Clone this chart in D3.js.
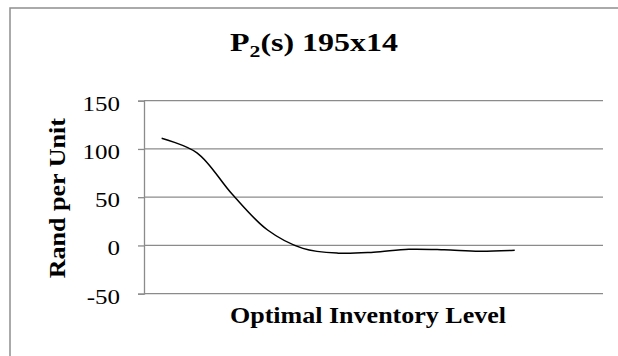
<!DOCTYPE html>
<html>
<head>
<meta charset="utf-8">
<script src="https://cdn.jsdelivr.net/npm/d3@7"></script>
<style>
  html, body { margin: 0; padding: 0; background: #fff; }
  svg { display: block; }
  text { font-family: "Liberation Serif", "Times New Roman", serif; fill: #000; }
</style>
</head>
<body>
<svg id="chart" width="618" height="356"></svg>
<script>
// Category slots along the horizontal axis (labels are not shown)
const categories = ["1","2","3","4","5","6","7","8","9","10","11","12","13"];
// Rand per unit at each inventory level (last two slots empty)
const values = [111, 96, 53, 16, -3, -8, -7, -4, -4.5, -6, -5, null, null];
// Value axis ticks
const yTicks = [-50, 0, 50, 100, 150];

const svg = d3.select("#chart");
const W = 618, H = 356;
const plot = { left: 144, right: 603, top: 100.7, bottom: 293.7 };
const gridColor = "#8b8b8b";

// chart frame (runs past the right and bottom edges)
svg.append("rect")
  .attr("x", 10).attr("y", 8)
  .attr("width", W + 20).attr("height", H + 20)
  .attr("fill", "#fff")
  .attr("stroke", "#8e8e8e").attr("stroke-width", 1.5);

const x = d3.scalePoint().domain(categories).range([plot.left, plot.right]).padding(0.5);
const y = d3.scaleLinear().domain([-50, 150]).range([plot.bottom, plot.top]);

// horizontal gridlines
svg.append("g").selectAll("line").data(yTicks).join("line")
  .attr("x1", plot.left).attr("x2", plot.right)
  .attr("y1", d => y(d)).attr("y2", d => y(d))
  .attr("stroke", gridColor).attr("stroke-width", 1.3);

// value axis
const yAxis = svg.append("g")
  .attr("transform", `translate(${plot.left},0)`)
  .call(d3.axisLeft(y).tickValues(yTicks).tickSize(6).tickPadding(0).tickFormat(d => String(d)));
yAxis.select(".domain").attr("stroke", gridColor).attr("stroke-width", 1.3);
yAxis.selectAll(".tick line").attr("stroke", gridColor).attr("stroke-width", 1.3);
yAxis.selectAll(".tick text")
  .attr("font-family", "Liberation Serif, Times New Roman, serif")
  .attr("font-size", 20).attr("fill", "#000")
  .attr("x", 0).attr("dy", "0.47em")
  .attr("transform", "translate(-24,0) scale(1.25,1)");

// series line
const line = d3.line()
  .defined(d => d.v !== null)
  .x(d => x(d.c))
  .y(d => y(d.v))
  .curve(d3.curveCatmullRom.alpha(0.5));
svg.append("path")
  .datum(categories.map((c, i) => ({ c, v: values[i] })))
  .attr("d", line)
  .attr("fill", "none").attr("stroke", "#000").attr("stroke-width", 1.5);

// title with subscript
const title = svg.append("text")
  .attr("x", 314).attr("y", 51)
  .attr("text-anchor", "middle")
  .attr("font-weight", "bold").attr("font-size", 25)
  .attr("textLength", 168).attr("lengthAdjust", "spacingAndGlyphs");
title.append("tspan").text("P");
title.append("tspan").attr("font-size", 17).attr("dy", 6).text("2");
title.append("tspan").attr("dy", -6).text("(s) 195x14");

// axis titles
svg.append("text")
  .attr("x", 368).attr("y", 323)
  .attr("text-anchor", "middle")
  .attr("font-weight", "bold").attr("font-size", 24)
  .attr("textLength", 276).attr("lengthAdjust", "spacingAndGlyphs")
  .text("Optimal Inventory Level");

svg.append("text")
  .attr("transform", `translate(65,${(plot.top + plot.bottom) / 2 + 1}) rotate(-90)`)
  .attr("text-anchor", "middle")
  .attr("font-weight", "bold").attr("font-size", 24)
  .attr("textLength", 160).attr("lengthAdjust", "spacingAndGlyphs")
  .text("Rand per Unit");
</script>
</body>
</html>
